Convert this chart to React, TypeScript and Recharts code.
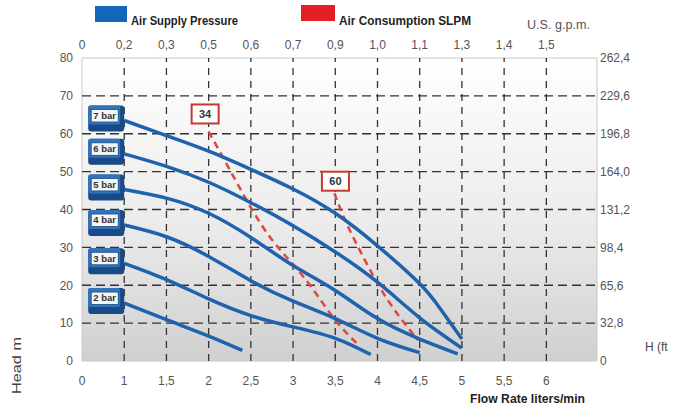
import { LineChart, Line, XAxis, YAxis, ReferenceLine, ReferenceArea } from "recharts";

// flow axis (liters/min); the first slot is printed as "0"
const flowTicks = [0.5, 1, 1.5, 2, 2.5, 3, 3.5, 4, 4.5, 5, 5.5, 6];
const litreLabels = ["0", "1", "1,5", "2", "2,5", "3", "3,5", "4", "4,5", "5", "5,5", "6"];
const gpmLabels = ["0", "0,2", "0,3", "0,5", "0,6", "0,7", "0,9", "1,0", "1,1", "1,3", "1,4", "1,5"];
const headTicks = [0, 10, 20, 30, 40, 50, 60, 70, 80];
const feetTicks = [0, 32.8, 65.6, 98.4, 131.2, 164.0, 196.8, 229.6, 262.4];
const gridFlow = [1, 1.5, 2, 2.5, 3, 3.5, 4, 4.5, 5, 5.5, 6];
const gridHead = [10, 20, 30, 40, 50, 60, 70];

// pump curves, head in m
const bar7 = [
  { flow: 1.0, head: 63.5 }, { flow: 1.5, head: 59.5 }, { flow: 2.0, head: 55.4 },
  { flow: 2.5, head: 50.6 }, { flow: 3.0, head: 45.4 }, { flow: 3.5, head: 39 },
  { flow: 4.0, head: 30.4 }, { flow: 4.5, head: 20.4 }, { flow: 4.75, head: 13.6 },
  { flow: 5.0, head: 5.8 },
];
const bar6 = [
  { flow: 1.0, head: 54.7 }, { flow: 1.5, head: 51.4 }, { flow: 2.0, head: 47.2 },
  { flow: 2.5, head: 41.8 }, { flow: 3.0, head: 35.7 }, { flow: 3.5, head: 28.8 },
  { flow: 4.0, head: 20.8 }, { flow: 4.5, head: 11.4 }, { flow: 5.0, head: 3.4 },
];
const bar5 = [
  { flow: 1.0, head: 45.3 }, { flow: 1.5, head: 43 }, { flow: 2.0, head: 39 },
  { flow: 2.5, head: 32.6 }, { flow: 3.0, head: 25.2 }, { flow: 3.5, head: 18.6 },
  { flow: 4.0, head: 11.2 }, { flow: 4.5, head: 5.8 }, { flow: 4.95, head: 1.9 },
];
const bar4 = [
  { flow: 1.0, head: 35.9 }, { flow: 1.5, head: 32.8 }, { flow: 2.0, head: 27.6 },
  { flow: 2.5, head: 21.2 }, { flow: 3.0, head: 15.8 }, { flow: 3.5, head: 11.2 },
  { flow: 4.0, head: 6 }, { flow: 4.5, head: 2.2 },
];
const bar3 = [
  { flow: 1.0, head: 25.8 }, { flow: 1.5, head: 21.5 }, { flow: 2.0, head: 16.4 },
  { flow: 2.5, head: 12 }, { flow: 3.0, head: 9 }, { flow: 3.5, head: 6 },
  { flow: 3.92, head: 1.7 },
];
const bar2 = [
  { flow: 1.0, head: 15.3 }, { flow: 1.5, head: 10.9 }, { flow: 2.0, head: 6.6 },
  { flow: 2.4, head: 2.8 },
];

// air consumption lines (SLPM)
const slpm34 = [
  { flow: 2.0, head: 60.6 }, { flow: 2.25, head: 50.5 }, { flow: 2.5, head: 40.5 },
  { flow: 2.75, head: 32 }, { flow: 3.0, head: 25.5 }, { flow: 3.25, head: 18.5 },
  { flow: 3.5, head: 10.8 }, { flow: 3.77, head: 4.3 },
];
const slpm60 = [
  { flow: 3.49, head: 44.3 }, { flow: 3.6, head: 38 }, { flow: 3.75, head: 31 },
  { flow: 4.0, head: 20.5 }, { flow: 4.25, head: 12 }, { flow: 4.48, head: 5.5 },
];

const BLUE = "#1f62ad";
const RED = "#db4a3c";
const tickFont = { fontSize: 12, fill: "#555", fontFamily: "Liberation Sans, Arial, sans-serif" };

function barTag(name: string) {
  return (props: any) => {
    const { cx, cy, index } = props;
    if (index !== 0) return <g key={index} />;
    return (
      <g key="tag">
        <rect x={cx - 36} y={cy - 15} width={36} height={26} rx={3} fill="#174a86" />
        <rect x={cx - 36} y={cy - 15} width={32} height={19} rx={2} fill="#3273bb" />
        <rect x={cx - 33} y={cy - 11} width={27} height={12.5} fill="#f4f6f8" stroke="#174a86" strokeWidth={0.8} />
        <text x={cx - 19.5} y={cy - 1.6} textAnchor="middle" fontSize={9.5} fontWeight="bold"
          fill="#333" fontFamily="Liberation Sans, Arial, sans-serif">{name}</text>
      </g>
    );
  };
}

function slpmTag(value: string, dx: number, dy: number) {
  return (props: any) => {
    const { cx, cy, index } = props;
    if (index !== 0) return <g key={index} />;
    return (
      <g key="tag">
        <rect x={cx + dx - 13.5} y={cy + dy - 9.5} width={27} height={19} fill="#fff" stroke="#c8382d" strokeWidth={2} />
        <text x={cx + dx} y={cy + dy + 4} textAnchor="middle" fontSize={11} fontWeight="bold"
          fill="#333" fontFamily="Liberation Sans, Arial, sans-serif">{value}</text>
      </g>
    );
  };
}

const fmtFeet = (v: number) => (v === 0 ? "0" : v.toFixed(1).replace(".", ","));

export default function App() {
  const curves = [
    { name: "2 bar", data: bar2 },
    { name: "3 bar", data: bar3 },
    { name: "4 bar", data: bar4 },
    { name: "5 bar", data: bar5 },
    { name: "6 bar", data: bar6 },
    { name: "7 bar", data: bar7 },
  ];
  const narrow = "Liberation Sans Narrow, Arial Narrow, sans-serif";
  return (
    <div style={{ position: "absolute", left: 0, top: 0, width: 681, height: 408, background: "#fff" }}>
      <svg width={681} height={408} style={{ position: "absolute", left: 0, top: 0 }}>
        <rect x={95} y={6} width={32} height={16} fill="#1466b8" />
        <text x={131} y={25} fontSize={13} fontWeight="bold" fill="#222" fontFamily={narrow}
          textLength={107} lengthAdjust="spacingAndGlyphs">Air Supply Pressure</text>
        <rect x={301} y={5} width={34} height={16} fill="#e31e24" />
        <text x={339} y={25} fontSize={13} fontWeight="bold" fill="#222" fontFamily={narrow}
          textLength={132} lengthAdjust="spacingAndGlyphs">Air Consumption SLPM</text>
        <text x={527} y={29} fontSize={12} fill="#555" fontFamily="Liberation Sans, Arial, sans-serif"
          textLength={63} lengthAdjust="spacingAndGlyphs">U.S. g.p.m.</text>
        <text x={470} y={403} fontSize={13} fontWeight="bold" fill="#222" fontFamily={narrow}
          textLength={115} lengthAdjust="spacingAndGlyphs">Flow Rate liters/min</text>
        <text x={645} y={351} fontSize={12} fill="#444" fontFamily="Liberation Sans, Arial, sans-serif">H (ft</text>
        <text x={0} y={0} transform="translate(21 394) rotate(-90)" fontSize={12} fill="#444"
          fontFamily="Liberation Sans, Arial, sans-serif" textLength={57} lengthAdjust="spacingAndGlyphs">Head m</text>
      </svg>
      <div style={{ position: "absolute", left: 0, top: 0 }}>
        <LineChart width={681} height={408} margin={{ top: 28, right: 0, bottom: 17, left: 0 }}>
          <defs>
            <linearGradient id="plotBg" x1="0" y1="0" x2="0" y2="1">
              <stop offset="0%" stopColor="#ffffff" />
              <stop offset="55%" stopColor="#ebebeb" />
              <stop offset="100%" stopColor="#d0d0d0" />
            </linearGradient>
          </defs>
          <XAxis xAxisId="flow" type="number" dataKey="flow" domain={[0.5, 6.6]} ticks={flowTicks}
            tickFormatter={(v: number) => litreLabels[flowTicks.indexOf(v)]} axisLine={false} tickLine={false}
            tickSize={0} tickMargin={15} height={30} tick={tickFont} interval={0} />
          <XAxis xAxisId="top" orientation="top" type="number" dataKey="flow" domain={[0.5, 6.6]} ticks={flowTicks}
            tickFormatter={(v: number) => gpmLabels[flowTicks.indexOf(v)]} axisLine={false} tickLine={false}
            tickSize={0} tickMargin={9} height={30} tick={tickFont} interval={0} />
          <YAxis yAxisId="m" type="number" domain={[0, 80]} ticks={headTicks} axisLine={false} tickLine={false}
            tickSize={0} tickMargin={9} width={82} tick={tickFont} interval={0} />
          <YAxis yAxisId="ft" orientation="right" type="number" domain={[0, 262.4]} ticks={feetTicks}
            tickFormatter={fmtFeet} axisLine={false} tickLine={false} tickSize={0} tickMargin={3} width={84}
            tick={{ ...tickFont, textAnchor: "start" }} interval={0} />
          <ReferenceArea xAxisId="flow" yAxisId="m" x1={0.5} x2={6.6} y1={0} y2={80} fill="url(#plotBg)"
            fillOpacity={1} stroke="#c9c9c9" strokeWidth={1} />
          {gridFlow.map((v) => (
            <ReferenceLine key={"gx" + v} xAxisId="flow" yAxisId="m" x={v} stroke="#333" strokeWidth={1.3}
              strokeDasharray="7 6" />
          ))}
          {gridHead.map((v) => (
            <ReferenceLine key={"gy" + v} xAxisId="flow" yAxisId="m" y={v} stroke="#333" strokeWidth={1.3}
              strokeDasharray="9 5" />
          ))}
          {/* same curve in gpm / feet, invisible: keeps the top and right scales drawn */}
          <Line xAxisId="top" yAxisId="ft" data={bar7} dataKey={(d: any) => d.head * 3.28} stroke="none"
            dot={false} activeDot={false} isAnimationActive={false} />
          <Line xAxisId="flow" yAxisId="m" data={slpm34} dataKey="head" type="natural" stroke={RED}
            strokeWidth={2.5} strokeDasharray="7 5" dot={slpmTag("34", -3.5, -17.5)} activeDot={false}
            isAnimationActive={false} />
          <Line xAxisId="flow" yAxisId="m" data={slpm60} dataKey="head" type="natural" stroke={RED}
            strokeWidth={2.5} strokeDasharray="7 5" dot={slpmTag("60", 1, -12)} activeDot={false}
            isAnimationActive={false} />
          {curves.map((c) => (
            <Line key={c.name} xAxisId="flow" yAxisId="m" data={c.data} dataKey="head" type="natural"
              stroke={BLUE} strokeWidth={3.5} dot={barTag(c.name)} activeDot={false}
              isAnimationActive={false} />
          ))}
        </LineChart>
      </div>
    </div>
  );
}
